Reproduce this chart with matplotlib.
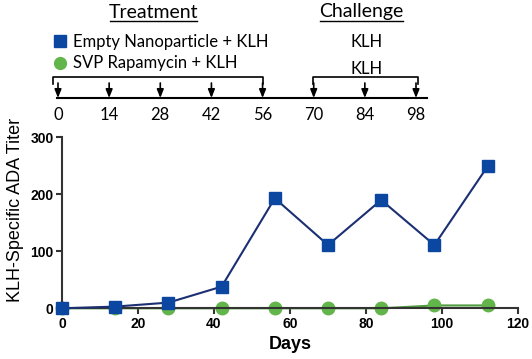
import matplotlib.pyplot as plt

# Timeline (treatment / challenge schedule)
treat_days = [0, 14, 28, 42, 56]
challenge_days = [70, 84, 98]

# Titer data
days = [0, 14, 28, 42, 56, 70, 84, 98, 112]
empty_np = [0, 3, 10, 38, 193, 111, 190, 111, 249]
svp_rapa = [0, 0, 0, 0, 0, 0, 0, 5, 5]

blue_mk = "#0b46a0"
blue_ln = "#1b2f72"
green_mk = "#62b54a"
green_ln = "#4f9c3d"
top_font = ["Lato", "DejaVu Sans"]

fig = plt.figure(figsize=(5.32, 3.59), dpi=100)

# ---- main chart ----
ax = fig.add_axes([62 / 532, 1 - 308.3 / 359, 456 / 532, 171 / 359])
ax.plot(days, empty_np, color=blue_ln, lw=1.5, marker="s", ms=9,
        mfc=blue_mk, mec=blue_mk, clip_on=False, zorder=3)
ax.plot(days, svp_rapa, color=green_ln, lw=1.5, marker="o", ms=9,
        mfc=green_mk, mec=green_mk, clip_on=False, zorder=2)
ax.set_xlim(0, 120)
ax.set_ylim(0, 300)
ax.set_xticks(range(0, 121, 20))
ax.set_yticks([0, 100, 200, 300])
for s in ["top", "right"]:
    ax.spines[s].set_visible(False)
for s in ["left", "bottom"]:
    ax.spines[s].set_linewidth(1.5)
    ax.spines[s].set_color("#333333")
ax.tick_params(direction="out", length=4, width=1.5, color="#333333",
               labelsize=10, pad=2)
for lbl in ax.get_xticklabels() + ax.get_yticklabels():
    lbl.set_fontweight("bold")
    lbl.set_family("Liberation Sans")
ax.set_xlabel("Days", fontsize=13, fontweight="bold", family="Liberation Sans",
              labelpad=4)
fig.text(16 / 532, 1 - 210 / 359, "KLH-Specific ADA Titer", rotation=90,
         ha="center", va="center", fontsize=13, family="Liberation Sans")

# ---- schedule timeline (x in days, y in pixels from top) ----
tl = fig.add_axes([58 / 532, 1 - 125 / 359, (416 - 58) / 532, 125 / 359])
tl.set_xlim(0, 98)
tl.set_ylim(125, 0)
tl.axis("off")

tl.plot([-0.3, 101], [98, 98], color="black", lw=1.5, clip_on=False)
all_days = treat_days + challenge_days
for d in all_days:
    tl.annotate("", xy=(d, 98), xytext=(d, 83),
                arrowprops=dict(arrowstyle="-|>,head_length=0.5,head_width=0.2",
                                color="black", lw=1.2, shrinkA=0, shrinkB=0),
                annotation_clip=False)
    tl.text(d, 115, str(d), ha="center", va="center", fontsize=12,
            family=top_font)

# brackets
tb = [treat_days[0] - 1.4, treat_days[-1]]
cb = [challenge_days[0] - 0.3, challenge_days[-1] + 0.5]
for x0, x1 in (tb, cb):
    tl.plot([x0, x0, x1, x1], [84, 77, 77, 84], color="black", lw=1.2,
            clip_on=False)

tl.text(26.1, 12, "Treatment", ha="center", va="center", fontsize=14,
        family=top_font)
tl.text(83.1, 12, "Challenge", ha="center", va="center", fontsize=14,
        family=top_font)
# underlines
tl.plot([14.2, 38.0], [20.5, 20.5], color="black", lw=1.0, clip_on=False)
tl.plot([71.7, 94.4], [20.5, 20.5], color="black", lw=1.0, clip_on=False)

# legend-like labels
tl.plot([0.6], [41], marker="s", ms=8.5, color=blue_mk, clip_on=False)
tl.plot([0.6], [63], marker="o", ms=8.5, color=green_mk, clip_on=False)
tl.text(4.2, 42, "Empty Nanoparticle + KLH", ha="left", va="center",
        fontsize=12, family=top_font)
tl.text(4.2, 63, "SVP Rapamycin + KLH", ha="left", va="center",
        fontsize=12, family=top_font)
tl.text(84.5, 42, "KLH", ha="center", va="center", fontsize=12, family=top_font)
tl.text(84.5, 69, "KLH", ha="center", va="center", fontsize=12, family=top_font)

fig.savefig("out.png", dpi=100)
